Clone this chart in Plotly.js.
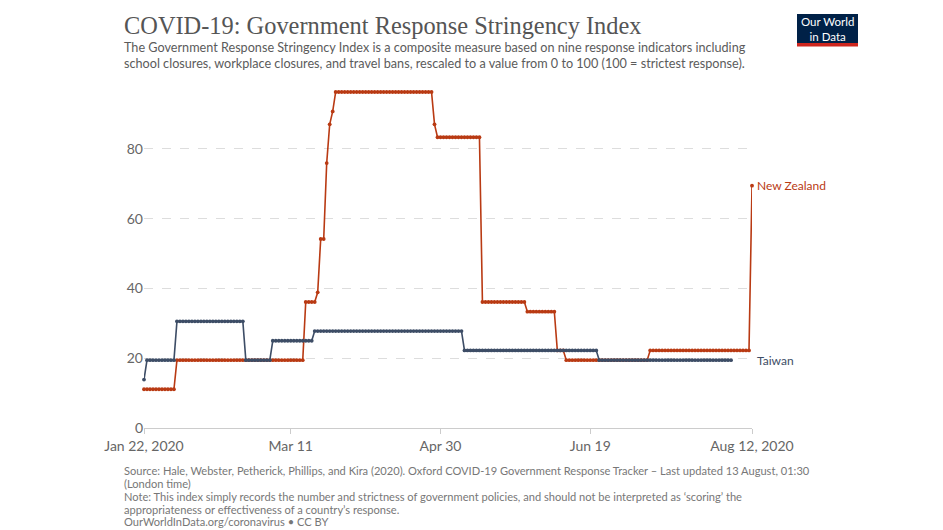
<!DOCTYPE html>
<html>
<head>
<meta charset="utf-8">
<script src="https://cdn.plot.ly/plotly-3.0.1.min.js"></script>
<style>html,body{margin:0;padding:0;background:#fff;}#chart{width:943px;height:530px;}</style>
</head>
<body>
<div id="chart"></div>
<script>
// ---- data (daily values, first day = 2020-01-22) ----
var startDate = '2020-01-22';
var newZealand = [
  11.11,11.11,11.11,11.11,11.11,11.11,11.11,11.11,11.11,11.11,
  11.11,19.44,19.44,19.44,19.44,19.44,19.44,19.44,19.44,19.44,
  19.44,19.44,19.44,19.44,19.44,19.44,19.44,19.44,19.44,19.44,
  19.44,19.44,19.44,19.44,19.44,19.44,19.44,19.44,19.44,19.44,
  19.44,19.44,19.44,19.44,19.44,19.44,19.44,19.44,19.44,19.44,
  19.44,19.44,19.44,19.44,36.11,36.11,36.11,36.11,38.89,54.17,
  54.17,75.93,87.04,90.74,96.3,96.3,96.3,96.3,96.3,96.3,
  96.3,96.3,96.3,96.3,96.3,96.3,96.3,96.3,96.3,96.3,
  96.3,96.3,96.3,96.3,96.3,96.3,96.3,96.3,96.3,96.3,
  96.3,96.3,96.3,96.3,96.3,96.3,96.3,87.04,83.33,83.33,
  83.33,83.33,83.33,83.33,83.33,83.33,83.33,83.33,83.33,83.33,
  83.33,83.33,83.33,36.11,36.11,36.11,36.11,36.11,36.11,36.11,
  36.11,36.11,36.11,36.11,36.11,36.11,36.11,36.11,33.33,33.33,
  33.33,33.33,33.33,33.33,33.33,33.33,33.33,33.33,22.22,22.22,
  22.22,19.44,19.44,19.44,19.44,19.44,19.44,19.44,19.44,19.44,
  19.44,19.44,19.44,19.44,19.44,19.44,19.44,19.44,19.44,19.44,
  19.44,19.44,19.44,19.44,19.44,19.44,19.44,19.44,19.44,22.22,
  22.22,22.22,22.22,22.22,22.22,22.22,22.22,22.22,22.22,22.22,
  22.22,22.22,22.22,22.22,22.22,22.22,22.22,22.22,22.22,22.22,
  22.22,22.22,22.22,22.22,22.22,22.22,22.22,22.22,22.22,22.22,
  22.22,22.22,22.22,69.44
];
var taiwan = [
  13.89,19.44,19.44,19.44,19.44,19.44,19.44,19.44,19.44,19.44,
  19.44,30.56,30.56,30.56,30.56,30.56,30.56,30.56,30.56,30.56,
  30.56,30.56,30.56,30.56,30.56,30.56,30.56,30.56,30.56,30.56,
  30.56,30.56,30.56,30.56,19.44,19.44,19.44,19.44,19.44,19.44,
  19.44,19.44,19.44,25,25,25,25,25,25,25,
  25,25,25,25,25,25,25,27.78,27.78,27.78,
  27.78,27.78,27.78,27.78,27.78,27.78,27.78,27.78,27.78,27.78,
  27.78,27.78,27.78,27.78,27.78,27.78,27.78,27.78,27.78,27.78,
  27.78,27.78,27.78,27.78,27.78,27.78,27.78,27.78,27.78,27.78,
  27.78,27.78,27.78,27.78,27.78,27.78,27.78,27.78,27.78,27.78,
  27.78,27.78,27.78,27.78,27.78,27.78,27.78,22.22,22.22,22.22,
  22.22,22.22,22.22,22.22,22.22,22.22,22.22,22.22,22.22,22.22,
  22.22,22.22,22.22,22.22,22.22,22.22,22.22,22.22,22.22,22.22,
  22.22,22.22,22.22,22.22,22.22,22.22,22.22,22.22,22.22,22.22,
  22.22,22.22,22.22,22.22,22.22,22.22,22.22,22.22,22.22,22.22,
  22.22,22.22,19.44,19.44,19.44,19.44,19.44,19.44,19.44,19.44,
  19.44,19.44,19.44,19.44,19.44,19.44,19.44,19.44,19.44,19.44,
  19.44,19.44,19.44,19.44,19.44,19.44,19.44,19.44,19.44,19.44,
  19.44,19.44,19.44,19.44,19.44,19.44,19.44,19.44,19.44,19.44,
  19.44,19.44,19.44,19.44,19.44,19.44,19.44
];
var seriesNames = ['New Zealand', 'Taiwan'];
var tickDates = ['2020-01-22','2020-03-11','2020-04-30','2020-06-19','2020-08-12'];
var tickLabels = ['Jan 22, 2020','Mar 11','Apr 30','Jun 19','Aug 12, 2020'];
var yTicks = [0, 20, 40, 60, 80];

var titleText = 'COVID-19: Government Response Stringency Index';
var subtitleLines = [
  'The Government Response Stringency Index is a composite measure based on nine response indicators including',
  'school closures, workplace closures, and travel bans, rescaled to a value from 0 to 100 (100 = strictest response).'
];
var footerLines = [
  'Source: Hale, Webster, Petherick, Phillips, and Kira (2020). Oxford COVID-19 Government Response Tracker – Last updated 13 August, 01:30',
  '(London time)',
  'Note: This index simply records the number and strictness of government policies, and should not be interpreted as ‘scoring’ the',
  'appropriateness or effectiveness of a country’s response.',
  'OurWorldInData.org/coronavirus • CC BY'
];
var logoText = 'Our World<br>in Data';

// ---- helpers ----
function datesFor(n) {
  var out = [];
  var t0 = Date.UTC(2020, 0, 22);
  for (var i = 0; i < n; i++) {
    var d = new Date(t0 + i * 86400000);
    out.push(d.toISOString().slice(0, 10));
  }
  return out;
}

var W = 943, H = 530;
var L = 144, R = 752, T = 92, B = 428;
function px(x) { return (x - L) / (R - L); }
function py(y) { return (B - y) / (B - T); }

var nzColor = '#B93A13';
var twColor = '#3D4D66';

var traces = [
  {
    x: datesFor(newZealand.length), y: newZealand, name: seriesNames[0],
    type: 'scatter', mode: 'lines+markers',
    line: {color: nzColor, width: 1.6},
    marker: {color: nzColor, size: 3.8},
    cliponaxis: false, hoverinfo: 'x+y'
  },
  {
    x: datesFor(taiwan.length), y: taiwan, name: seriesNames[1],
    type: 'scatter', mode: 'lines+markers',
    line: {color: twColor, width: 1.6},
    marker: {color: twColor, size: 3.8},
    cliponaxis: false, hoverinfo: 'x+y'
  }
];

var ann = [];
ann.push({
  text: titleText, xref: 'paper', yref: 'paper', x: px(122), y: py(25),
  xanchor: 'left', yanchor: 'middle', showarrow: false,
  font: {family: 'Liberation Serif, serif', size: 24.4, color: '#555555'}
});
subtitleLines.forEach(function (s, i) {
  ann.push({
    text: s, xref: 'paper', yref: 'paper', x: px(122), y: py(47.5 + i * 16),
    xanchor: 'left', yanchor: 'middle', showarrow: false,
    font: {family: 'Lato, sans-serif', size: 12.65, color: '#5b5b5b'}
  });
});
var footY = [470, 483.5, 496.5, 509, 521.5];
footerLines.forEach(function (s, i) {
  ann.push({
    text: s, xref: 'paper', yref: 'paper', x: px(122), y: py(footY[i]),
    xanchor: 'left', yanchor: 'middle', showarrow: false,
    font: {family: 'Lato, sans-serif', size: 11.1, color: '#777777'}
  });
});
// end labels
ann.push({
  text: seriesNames[0], xref: 'paper', yref: 'y', x: 1, y: newZealand[newZealand.length - 1],
  xanchor: 'left', yanchor: 'middle', xshift: 3, showarrow: false,
  font: {family: 'Lato, sans-serif', size: 12, color: nzColor}
});
ann.push({
  text: seriesNames[1], xref: 'paper', yref: 'y', x: 1, y: taiwan[taiwan.length - 1],
  xanchor: 'left', yanchor: 'middle', xshift: 3, showarrow: false,
  font: {family: 'Lato, sans-serif', size: 12, color: twColor}
});
// logo text
ann.push({
  text: logoText, xref: 'paper', yref: 'paper', x: px(827.5), y: py(29),
  xanchor: 'center', yanchor: 'middle', showarrow: false,
  font: {family: 'Lato, sans-serif', size: 11.5, color: '#ffffff'}
});

var shapes = [
  {type: 'rect', xref: 'paper', yref: 'paper', x0: px(797), x1: px(858), y0: py(14), y1: py(46),
   fillcolor: '#002147', line: {width: 0}, layer: 'below'},
  {type: 'rect', xref: 'paper', yref: 'paper', x0: px(797), x1: px(858), y0: py(43), y1: py(46.5),
   fillcolor: '#CE261E', line: {width: 0}, layer: 'below'}
];

var layout = {
  width: W, height: H,
  margin: {l: L, r: W - R, t: T, b: H - B, pad: 0},
  paper_bgcolor: '#ffffff', plot_bgcolor: 'rgba(0,0,0,0)',
  showlegend: false,
  font: {family: 'Lato, sans-serif', color: '#666666'},
  xaxis: {
    type: 'date', range: ['2020-01-22', '2020-08-12'],
    tickmode: 'array', tickvals: tickDates, ticktext: tickLabels,
    ticks: 'outside', ticklen: 5, tickcolor: '#cccccc', tickwidth: 1,
    showline: true, linecolor: '#cccccc', linewidth: 1,
    showgrid: false, zeroline: false,
    tickfont: {family: 'Lato, sans-serif', size: 14, color: '#666666'}
  },
  yaxis: {
    range: [0, 96.3], tickmode: 'array', tickvals: yTicks,
    ticks: '', showline: false, zeroline: false,
    showgrid: true, gridcolor: '#dddddd', griddash: 'dash', gridwidth: 1,
    tickfont: {family: 'Lato, sans-serif', size: 14, color: '#666666'}
  },
  annotations: ann,
  shapes: shapes
};

Plotly.newPlot('chart', traces, layout, {displayModeBar: false, staticPlot: true});
</script>
</body>
</html>
